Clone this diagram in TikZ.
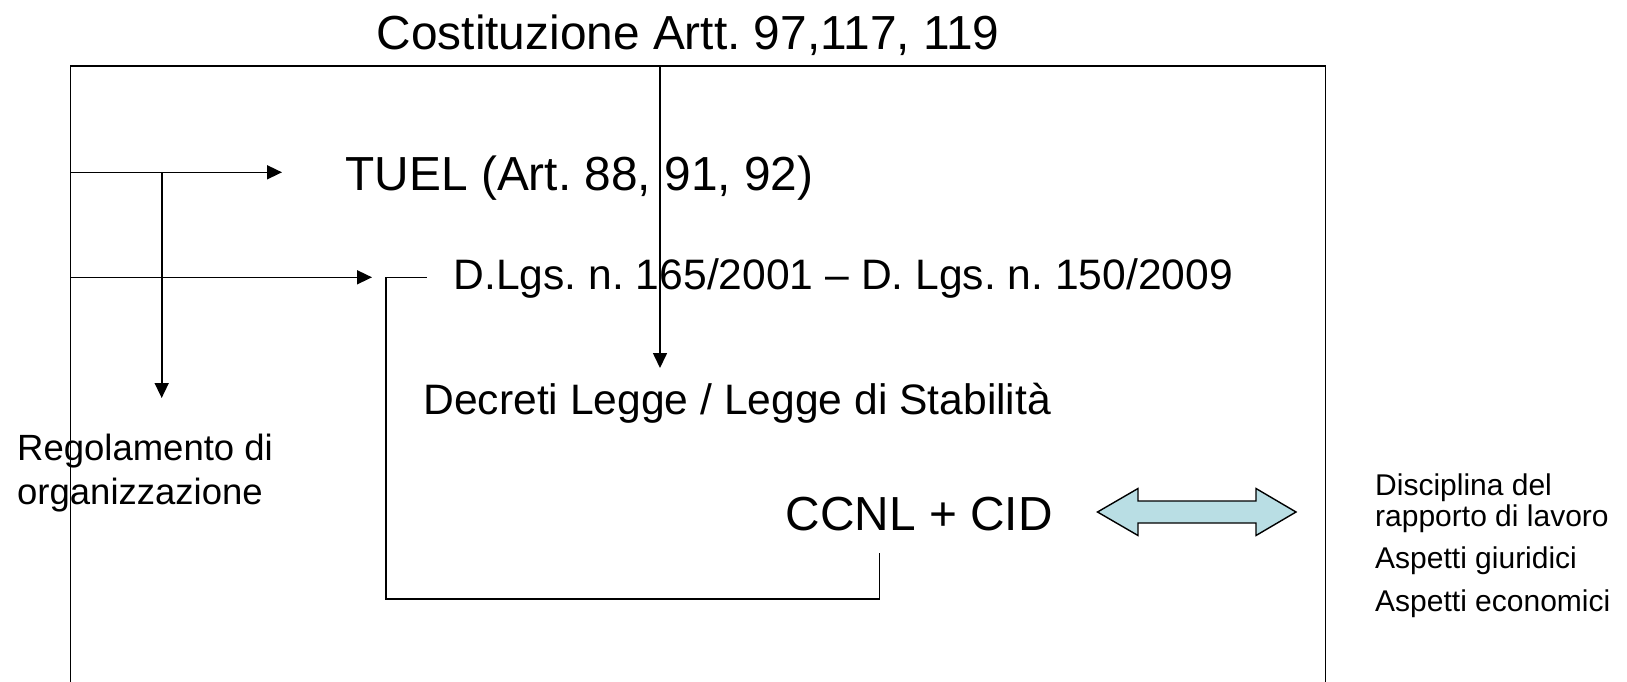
\documentclass[tikz,border=0pt]{standalone}
\usepackage{fontspec}
\setmainfont{Liberation Sans}
\usetikzlibrary{arrows.meta}
\definecolor{arrfill}{RGB}{185,222,228}
\frenchspacing
\begin{document}
\begin{tikzpicture}[x=1pt,y=-1pt,
  line/.style={line width=1.6pt},
  arr/.style={line width=1.6pt,-{Triangle[length=15pt,width=14pt]}},
  big/.style={inner sep=0pt,anchor=base west,font=\fontsize{47.8}{56}\selectfont},
  mid/.style={inner sep=0pt,anchor=base west,font=\fontsize{42.6}{50}\selectfont},
  reg/.style={inner sep=0pt,anchor=base west,font=\fontsize{36.5}{46}\selectfont},
  side/.style={inner sep=0pt,anchor=base west,font=\fontsize{30}{30}\selectfont}]
\useasboundingbox (0,0) rectangle (1627,682);
\draw[line] (70.5,700) -- (70.5,66) -- (1325.5,66) -- (1325.5,700);
\node[big] (cost) at (376.6,49.8) {Costituzione Artt. 97,117, 119};
\node[big] (tuel) at (345.5,190) {TUEL (Art. 88, 91, 92)};
\node[mid] (dlgs) at (453.5,289) {D.Lgs. n. 165/2001 -- D. Lgs. n. 150/2009};
\node[mid] (decr) at (423.3,414) {Decreti Legge / Legge di Stabilità};
\node[big] (ccnl) at (785.5,530) {CCNL + CID};
\node[reg] (reg1) at (17,460) {Regolamento di};
\node[reg] (reg2) at (17,504) {organizzazione};
\node[side] (s1) at (1375,495) {Disciplina del};
\node[side] (s2) at (1375,526) {rapporto di lavoro};
\node[side] (s3) at (1375,568) {Aspetti giuridici};
\node[side] (s4) at (1375,611) {Aspetti economici};
\coordinate (a1s) at (70.5,172.3);
\coordinate (a1e) at (282,172.3);
\coordinate (a2s) at (70.5,277.3);
\coordinate (a2e) at (372,277.3);
\coordinate (dvs) at (161.7,172.3);
\coordinate (dve) at (161.7,398);
\coordinate (cvs) at (660,66);
\coordinate (cve) at (660,368);
\draw[arr] (a1s) -- (a1e);
\draw[arr] (a2s) -- (a2e);
\draw[arr] (dvs) -- (dve);
\draw[arr] (cvs) -- (cve);
\coordinate (b1) at (879.6,553);
\coordinate (b2) at (385.7,599);
\coordinate (b3) at (427,277.5);
\draw[line] (b1) |- (b2) |- (b3);
\draw[line width=1.4pt,fill=arrfill] (1097.5,512) -- (1138,488.5) -- (1138,501) -- (1256,501) -- (1256,488.5) -- (1296,512) -- (1256,535.5) -- (1256,523) -- (1138,523) -- (1138,535.5) -- cycle;
\end{tikzpicture}
\end{document}
